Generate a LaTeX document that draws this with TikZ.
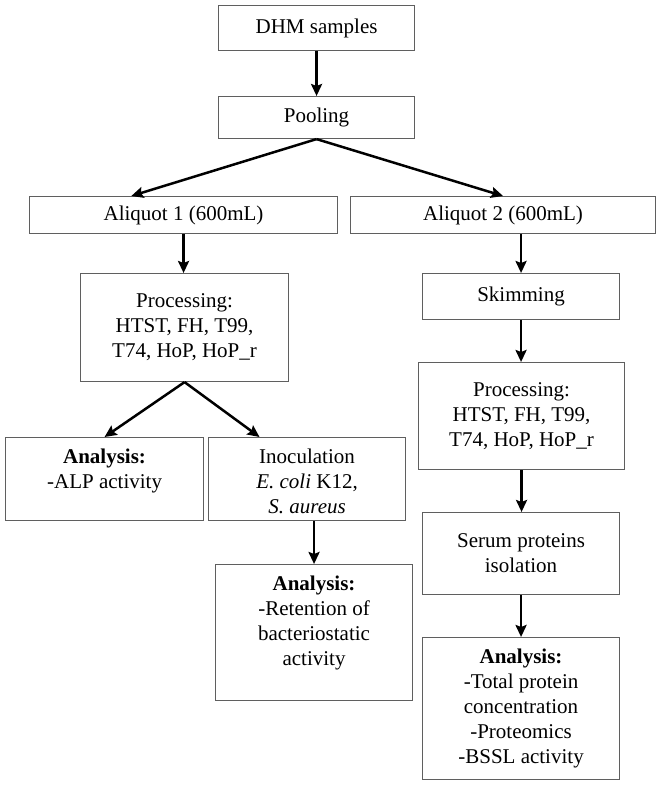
\documentclass[tikz,border=0pt]{standalone}
\usepackage{fontspec}
\setmainfont{Liberation Serif}
\usetikzlibrary{arrows.meta,calc}
\definecolor{boxgray}{RGB}{95,95,95}
\newcommand{\cbox}[3]{\begin{minipage}[c][#2][c]{#1}\centering #3\end{minipage}}
\newcommand{\tbox}[3]{\begin{minipage}[c][#2][t]{#1}\centering\rule{0pt}{26pt}#3\end{minipage}}
\begin{document}
\begin{tikzpicture}[x=1pt,y=-1pt,
  box/.style={draw=boxgray, line width=1.1pt, inner sep=0pt, anchor=north west,
    font=\fontsize{21}{25}\selectfont},
  arr/.style={line width=2.5pt, -{Stealth[length=12pt,width=11pt,inset=2pt]}}]
\useasboundingbox (0,0) rectangle (661,786);
\node[box] (dhm) at (218,5) {\cbox{196pt}{45pt}{DHM samples}};
\node[box] (pool) at (218,96) {\cbox{196pt}{42pt}{Pooling}};
\node[box] (al1) at (29,196) {\cbox{308pt}{37pt}{Aliquot 1 (600mL)}};
\node[box] (al2) at (350,196) {\cbox{305pt}{37pt}{Aliquot 2 (600mL)}};
\node[box] (proc1) at (80,273) {\cbox{208pt}{108pt}{Processing:\\HTST, FH, T99,\\T74, HoP, HoP\_r}};
\node[box] (skim) at (422,273) {\cbox{197pt}{46pt}{Skimming}};
\node[box] (proc2) at (418,362) {\cbox{206pt}{107pt}{Processing:\\HTST, FH, T99,\\T74, HoP, HoP\_r}};
\node[box] (alp) at (5,437) {\tbox{198pt}{83pt}{\textbf{Analysis:}\\-ALP activity}};
\node[box] (inoc) at (208,437) {\tbox{197pt}{83pt}{Inoculation\\\textit{E. coli} K12,\\\textit{S. aureus}}};
\node[box] (ret) at (215,564) {\tbox{197pt}{136pt}{\textbf{Analysis:}\\-Retention of\\bacteriostatic\\activity}};
\node[box] (serum) at (422,512) {\cbox{197pt}{82pt}{Serum proteins\\isolation}};
\node[box] (an2) at (422,637) {\tbox{197pt}{142pt}{\textbf{Analysis:}\\-Total protein\\concentration\\-Proteomics\\-BSSL activity}};
\draw[arr] (dhm.south) -- (pool.north);
\draw[arr] (pool.south) -- ($(al1.north west)!0.331!(al1.north east)$);
\draw[arr] (pool.south) -- (al2.north);
\draw[arr] (al1.south) -- (al1.south |- proc1.north);
\draw[arr] (al2.south -| skim.north) -- (skim.north);
\draw[arr] (proc1.south) -- (alp.north);
\draw[arr] (proc1.south) -- ($(inoc.north west)!0.26!(inoc.north east)$);
\draw[arr] (skim.south) -- (skim.south |- proc2.north);
\draw[arr] (inoc.south -| ret.north) -- (ret.north);
\draw[arr] (proc2.south) -- (proc2.south |- serum.north);
\draw[arr] (serum.south) -- (an2.north);
\end{tikzpicture}
\end{document}
